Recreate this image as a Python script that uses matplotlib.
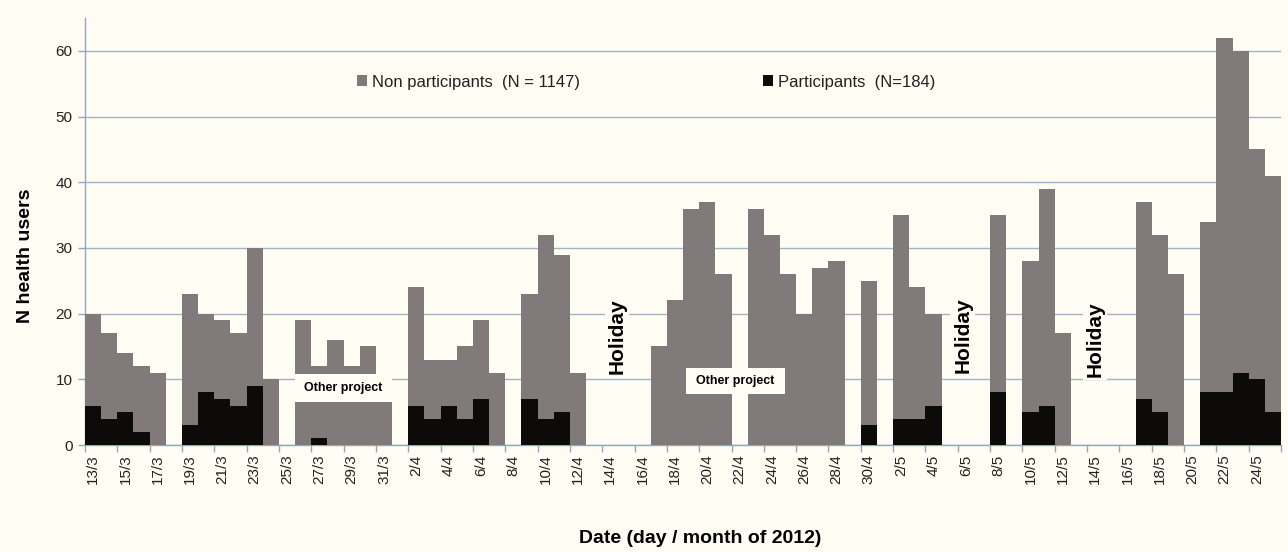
import matplotlib
matplotlib.use("Agg")
import matplotlib.pyplot as plt
from matplotlib.patches import Rectangle, Patch
import numpy as np

# Daily counts, 13 March to 25 May 2012 (one entry per calendar day, 0 = no clinic)
days = [
    "13/3", "14/3", "15/3", "16/3", "17/3", "18/3", "19/3", "20/3", "21/3", "22/3",
    "23/3", "24/3", "25/3", "26/3", "27/3", "28/3", "29/3", "30/3", "31/3",
    "1/4", "2/4", "3/4", "4/4", "5/4", "6/4", "7/4", "8/4", "9/4", "10/4",
    "11/4", "12/4", "13/4", "14/4", "15/4", "16/4", "17/4", "18/4", "19/4", "20/4",
    "21/4", "22/4", "23/4", "24/4", "25/4", "26/4", "27/4", "28/4", "29/4", "30/4",
    "1/5", "2/5", "3/5", "4/5", "5/5", "6/5", "7/5", "8/5", "9/5", "10/5",
    "11/5", "12/5", "13/5", "14/5", "15/5", "16/5", "17/5", "18/5", "19/5", "20/5",
    "21/5", "22/5", "23/5", "24/5", "25/5",
]

participants = [
    6, 4, 5, 2, 0, 0, 3, 8, 7, 6,
    9, 0, 0, 0, 1, 0, 0, 0, 0,
    0, 6, 4, 6, 4, 7, 0, 0, 7, 4,
    5, 0, 0, 0, 0, 0, 0, 0, 0, 0,
    0, 0, 0, 0, 0, 0, 0, 0, 0, 3,
    0, 4, 4, 6, 0, 0, 0, 8, 0, 5,
    6, 0, 0, 0, 0, 0, 7, 5, 0, 0,
    8, 8, 11, 10, 5,
]

non_participants = [
    14, 13, 9, 10, 11, 0, 20, 12, 12, 11,
    21, 10, 0, 19, 11, 16, 12, 15, 9,
    0, 18, 9, 7, 11, 12, 11, 0, 16, 28,
    24, 11, 0, 0, 0, 0, 15, 22, 36, 37,
    26, 0, 36, 32, 26, 20, 27, 28, 0, 22,
    0, 31, 20, 14, 0, 0, 0, 27, 0, 23,
    33, 17, 0, 0, 0, 0, 30, 27, 26, 0,
    26, 54, 49, 35, 36,
]

tick_labels = days[::2]

legend_labels = ["Non participants  (N = 1147)", "Participants  (N=184)"]
holiday_days = ["14/4", "6/5", "14/5"]

BG = "#FFFDF3"
GREY = "#807A7A"
BLACK = "#0D0A0A"
GRID = "#A0B4C5"
AXIS = "#8FA8BD"
TEXT = "#222222"

SANS = ["Liberation Sans", "DejaVu Sans"]

fig = plt.figure(figsize=(12.88, 5.52), dpi=100, facecolor=BG)
ax = fig.add_axes([0.066, 0.1938, 0.9286, 0.7736], facecolor=BG)

x = np.arange(len(days))
ax.bar(x, participants, width=1.0, color=BLACK, linewidth=0, zorder=3)
ax.bar(x, non_participants, width=1.0, bottom=participants, color=GREY,
       linewidth=0, zorder=3)

ax.set_xlim(-0.5, len(days) - 0.5)
ax.set_ylim(0, 65)

# horizontal gridlines
ax.set_yticks(range(0, 61, 10))
ax.yaxis.grid(True, color=GRID, linewidth=1.0, zorder=1)
ax.set_axisbelow(True)

for s in ("top", "right"):
    ax.spines[s].set_visible(False)
for s in ("left", "bottom"):
    ax.spines[s].set_color(AXIS)
    ax.spines[s].set_linewidth(1.0)

ax.tick_params(axis="y", colors=AXIS, length=5, width=1, labelcolor=TEXT,
               labelsize=11, pad=4)
for lbl in ax.get_yticklabels():
    lbl.set_family(SANS)

# tick marks on category boundaries, labels on category centres
ax.set_xticks(np.arange(-0.5, len(days), 2))
ax.set_xticklabels([])
ax.tick_params(axis="x", which="major", colors=AXIS, length=5, width=1)
ax.set_xticks(x[::2], minor=True)
ax.set_xticklabels(tick_labels, minor=True, rotation=90, fontsize=11,
                   family=SANS, color=TEXT)
ax.tick_params(axis="x", which="minor", length=0, pad=7)

ax.set_ylabel("N health users", fontsize=14, fontweight="bold", family=SANS)
ax.yaxis.set_label_coords(-0.050, 0.443)
ax.yaxis.label.set_va("center")
ax.set_xlabel("Date (day / month of 2012)", fontsize=14, fontweight="bold",
              family=SANS)
ax.xaxis.set_label_coords(0.514, -0.218)
ax.xaxis.label.set_va("center")

# "Other project" blocks: (left, right, bottom, top) in data units
other_project_boxes = [(12.5, 18.5, 6.5, 10.8), (36.7, 42.8, 7.75, 11.7)]
for left, right, y0, y1 in other_project_boxes:
    ax.add_patch(Rectangle((left, y0), right - left, y1 - y0, facecolor=BG,
                           edgecolor="none", zorder=4))
    ax.text((left + right) / 2, (y0 + y1) / 2, "Other project", ha="center",
            va="center", fontsize=9, fontweight="bold", family=SANS, zorder=5)

# holiday markers
for d, dx, yc in zip(holiday_days, [0.4, -0.2, 0.0], [16.6, 16.7, 16.1]):
    ax.text(days.index(d) + dx, yc, "Holiday", rotation=90, ha="center",
            va="center", fontsize=15, fontweight="bold", family=SANS, zorder=5,
            bbox=dict(facecolor=BG, edgecolor="none", pad=2))

handles = [Patch(facecolor=GREY, edgecolor="none"),
           Patch(facecolor=BLACK, edgecolor="none")]
leg = ax.legend(handles, legend_labels, ncol=2, loc="center",
                bbox_to_anchor=(0.469, 0.850), frameon=False,
                prop={"family": SANS, "size": 12}, handlelength=0.6,
                handleheight=0.6, handletextpad=0.3, columnspacing=11.0)
for t in leg.get_texts():
    t.set_color(TEXT)

fig.savefig("out.png", dpi=100, facecolor=BG)
